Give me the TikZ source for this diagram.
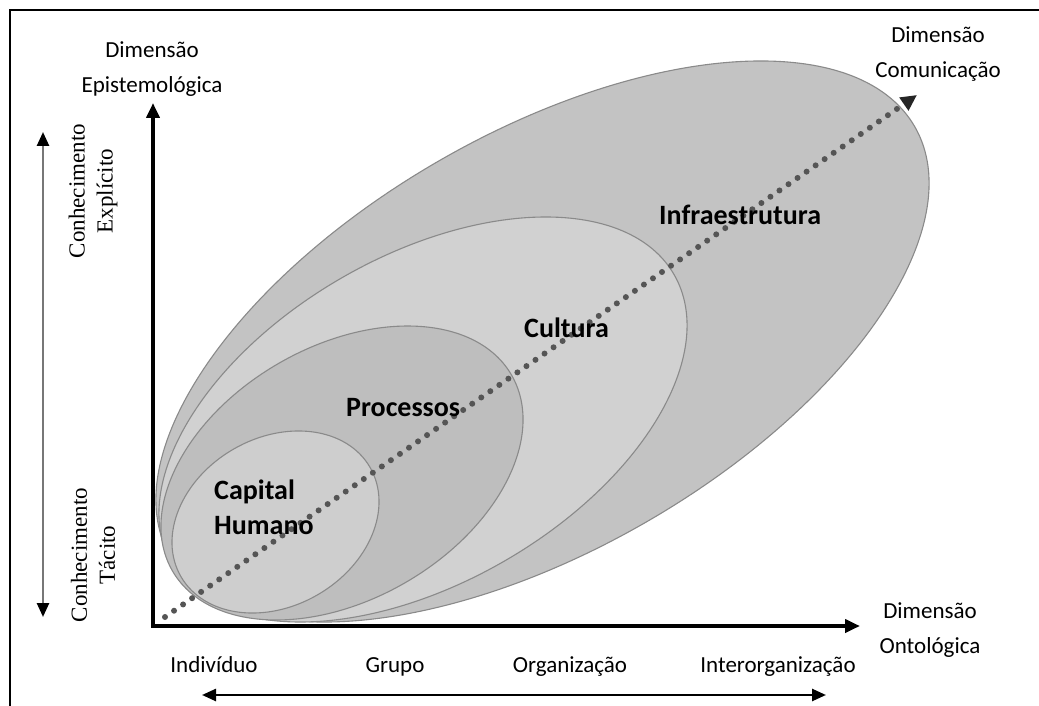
\documentclass[tikz,border=0pt]{standalone}
\usepackage{fontspec}
\setmainfont{Carlito}
\newfontfamily\serifface{Liberation Serif}
\usetikzlibrary{arrows.meta}

\definecolor{ringedge}{HTML}{8A8A8A}
\definecolor{infrafill}{HTML}{C3C3C3}
\definecolor{culturafill}{HTML}{D1D1D1}
\definecolor{processfill}{HTML}{BEBEBE}
\definecolor{capitalfill}{HTML}{CECECE}
\definecolor{dotgray}{HTML}{555555}
\definecolor{guidegray}{HTML}{777777}

\begin{document}
\begin{tikzpicture}[x=1pt,y=-1pt,
  axislabel/.style={font=\fontsize{23}{35}\selectfont, inner sep=0pt, align=center},
  levellabel/.style={font=\fontsize{23}{28}\selectfont, inner sep=0pt, anchor=base},
  sidelabel/.style={font=\serifface\fontsize{23}{28}\selectfont, inner sep=0pt, align=center, rotate=90},
  ringlabel/.style={font=\bfseries\fontsize{28}{35}\selectfont, inner sep=0pt, anchor=west, align=left},
  ring/.style={draw=ringedge, line width=1.1pt},
  bothways/.style={line width=2.5pt, {Triangle[length=14pt,width=12pt,color=black]}-{Triangle[length=14pt,width=12pt,color=black]}},
  dotted diag/.style={dotgray, line width=6pt, line cap=round, dash pattern=on 0pt off 11pt,
    -{Triangle[length=16pt,width=15pt,color=black!85]}}
]
\useasboundingbox (0,0) rectangle (1039,706);

% frame
\draw[line width=2pt] (10,706) -- (10,10) -- (1039,10);

% nested knowledge rings, all tilted 30 degrees
\draw[ring, fill=infrafill, rotate around={30:(542.5,341.5)}]
  (542.5,341.5) ellipse [x radius=429.8pt, y radius=208.2pt];
\draw[ring, fill=culturafill, rotate around={30:(423,419.5)}]
  (423,419.5) ellipse [x radius=289.9pt, y radius=163.3pt];
\draw[ring, fill=processfill, rotate around={30:(342,473)}]
  (342,473) ellipse [x radius=195.8pt, y radius=126.6pt];
\draw[ring, fill=capitalfill, rotate around={30:(275.5,522)}]
  (275.5,522) ellipse [x radius=109.2pt, y radius=84.1pt];

% communication dimension
\coordinate (dstart) at (165,617);
\coordinate (dtip) at (917,95);
\draw[dotted diag] (dstart) -- (dtip);

% ring labels
\node[ringlabel] (infra) at (659,215) {Infraestrutura};
\node[ringlabel] (cultura) at (524,328) {Cultura};
\node[ringlabel] (processos) at (346,408) {Processos};
\node[ringlabel] (capital) at (214,507) {Capital\\Humano};

% main axes
\coordinate (origin) at (153,626);
\coordinate (ytip) at (153,103);
\coordinate (xtip) at (860,626);
\draw[line width=4pt, -{Triangle[length=15pt,width=13pt]}] ([yshift=2pt]origin) -- (ytip);
\draw[line width=4pt, -{Triangle[length=15pt,width=13pt]}] ([xshift=-2pt]origin) -- (xtip);

% axis titles
\node[axislabel] (epist) at (152,69) {Dimensão\\Epistemológica};
\node[axislabel] (comun) at (938,54) {Dimensão\\Comunicação};
\node[axislabel] (ontol) at (930,630) {Dimensão\\Ontológica};

% ontological levels
\node[levellabel] (indiv) at (214,672) {Indivíduo};
\node[levellabel] (grupo) at (395,672) {Grupo};
\node[levellabel] (org) at (570,672) {Organização};
\node[levellabel] (interorg) at (778,672) {Interorganização};
\coordinate (bl) at (202,695);
\coordinate (br) at (826,695);
\draw[bothways, black] (bl) -- (br);

% epistemological range
\coordinate (lt) at (43,132);
\coordinate (lb) at (43,617);
\draw[bothways, guidegray] (lt) -- (lb);
\node[sidelabel] (explicito) at (93,191) {Conhecimento\\Explícito};
\node[sidelabel] (tacito) at (93,555) {Conhecimento\\Tácito};
\end{tikzpicture}
\end{document}
